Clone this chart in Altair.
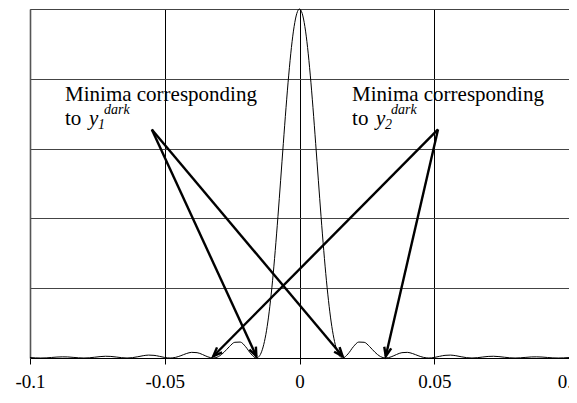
import math
import altair as alt
import pandas as pd

# ---- curve data ----
x_vals = [
    -0.100, -0.098, -0.096, -0.094, -0.092, -0.090, -0.088, -0.086, -0.084, -0.082,
    -0.080, -0.078, -0.076, -0.074, -0.072, -0.070, -0.068, -0.066, -0.064, -0.062,
    -0.060, -0.058, -0.056, -0.054, -0.052, -0.050, -0.048, -0.046, -0.044, -0.042,
    -0.040, -0.038, -0.036, -0.034, -0.032, -0.030, -0.028, -0.026, -0.024, -0.022,
    -0.020, -0.018, -0.016, -0.015, -0.014, -0.013, -0.012, -0.011, -0.010, -0.009,
    -0.008, -0.007, -0.006, -0.005, -0.004, -0.003, -0.002, -0.001,
    0.000,
    0.001, 0.002, 0.003, 0.004, 0.005, 0.006, 0.007, 0.008, 0.009, 0.010,
    0.011, 0.012, 0.013, 0.014, 0.015, 0.016, 0.018, 0.020, 0.022, 0.024,
    0.026, 0.028, 0.030, 0.032, 0.034, 0.036, 0.038, 0.040, 0.042, 0.044,
    0.046, 0.048, 0.050, 0.052, 0.054, 0.056, 0.058, 0.060, 0.062, 0.064,
    0.066, 0.068, 0.070, 0.072, 0.074, 0.076, 0.078, 0.080, 0.082, 0.084,
    0.086, 0.088, 0.090, 0.092, 0.094, 0.096, 0.098, 0.100,
]
y_vals = [
    0.0013, 0.0004, 0.0000, 0.0004, 0.0015, 0.0027, 0.0033, 0.0030, 0.0018, 0.0006,
    0.0000, 0.0006, 0.0022, 0.0040, 0.0050, 0.0045, 0.0028, 0.0009, 0.0000, 0.0010,
    0.0036, 0.0066, 0.0083, 0.0076, 0.0048, 0.0015, 0.0000, 0.0018, 0.0067, 0.0126,
    0.0162, 0.0153, 0.0100, 0.0033, 0.0000, 0.0042, 0.0165, 0.0328, 0.0450, 0.0457,
    0.0324, 0.0117, 0.0000, 0.0044, 0.0194, 0.0474, 0.0901, 0.1482, 0.2214, 0.3080,
    0.4053, 0.5092, 0.6150, 0.7173, 0.8106, 0.8896, 0.9496, 0.9872,
    1.0000,
    0.9872, 0.9496, 0.8896, 0.8106, 0.7173, 0.6150, 0.5092, 0.4053, 0.3080, 0.2214,
    0.1482, 0.0901, 0.0474, 0.0194, 0.0044, 0.0000, 0.0117, 0.0324, 0.0457, 0.0450,
    0.0328, 0.0165, 0.0042, 0.0000, 0.0033, 0.0100, 0.0153, 0.0162, 0.0126, 0.0067,
    0.0018, 0.0000, 0.0015, 0.0048, 0.0076, 0.0083, 0.0066, 0.0036, 0.0010, 0.0000,
    0.0009, 0.0028, 0.0045, 0.0050, 0.0040, 0.0022, 0.0006, 0.0000, 0.0006, 0.0018,
    0.0030, 0.0033, 0.0027, 0.0015, 0.0004, 0.0000, 0.0004, 0.0013,
]

x_ticks = [-0.1, -0.05, 0, 0.05, 0.1]
y_grid = [0, 0.2, 0.4, 0.6, 0.8, 1.0]

# ---- annotation data ----
arrow_x1 = [-0.0548, -0.0548, 0.0514, 0.0514]
arrow_y1 = [0.655, 0.655, 0.655, 0.655]
arrow_x2 = [-0.016, 0.016, -0.032, 0.032]
arrow_y2 = [0.005, 0.005, 0.005, 0.005]

label_x = [-0.0870, 0.0195]
label_line1_y = [0.737, 0.737]
label_line2_y = [0.667, 0.667]
label_line1 = ["Minima corresponding", "Minima corresponding"]
label_to = ["to", "to"]
label_y = ["y", "y"]
label_sub = ["1", "2"]
label_sup = ["dark", "dark"]

W, H = 539, 349
FONT = "Liberation Serif"

curve_df = pd.DataFrame({"x": x_vals, "y": y_vals})


def screen_angle(x1, y1, x2, y2):
    dx = (x2 - x1) / 0.2 * W
    dy = -(y2 - y1) * H
    return math.degrees(math.atan2(dx, -dy)) % 360


arrow_df = pd.DataFrame({
    "x1": arrow_x1, "y1": arrow_y1, "x2": arrow_x2, "y2": arrow_y2,
    "angle": [screen_angle(a, b, c, d) for a, b, c, d in zip(arrow_x1, arrow_y1, arrow_x2, arrow_y2)],
})
label_df = pd.DataFrame({
    "x": label_x, "y1": label_line1_y, "y2": label_line2_y,
    "l1": label_line1, "to": label_to, "yy": label_y, "sub": label_sub, "sup": label_sup,
})

xscale = alt.Scale(domain=[-0.1, 0.1], nice=False, zero=False)
yscale = alt.Scale(domain=[0, 1], nice=False, zero=False)

xaxis = alt.Axis(
    values=x_ticks, grid=True, gridColor="#000000", gridWidth=1, gridOpacity=1,
    domain=True, domainColor="#000000", domainWidth=1.2,
    ticks=True, tickColor="#000000", tickSize=6, tickWidth=1,
    labelFont=FONT, labelFontSize=19, labelColor="#000000", labelPadding=8,
    labelExpr="datum.value == 0 ? '0' : (datum.value < 0 ? '-' : '') + format(abs(datum.value), '~g')",
    labelFlush=False, labelOverlap=False, title=None,
)
yaxis = alt.Axis(
    values=y_grid, grid=True, gridColor="#444444", gridWidth=1.2, gridOpacity=1,
    domain=True, domainColor="#555555", domainWidth=1.6,
    ticks=False, labels=False, title=None,
)

curve = alt.Chart(curve_df).mark_line(color="#000000", strokeWidth=1, interpolate="monotone").encode(
    x=alt.X("x:Q", scale=xscale, axis=xaxis),
    y=alt.Y("y:Q", scale=yscale, axis=yaxis),
)

arrows = alt.Chart(arrow_df).mark_rule(color="#000000", strokeWidth=2.4).encode(
    x=alt.X("x1:Q", scale=xscale), y=alt.Y("y1:Q", scale=yscale),
    x2="x2:Q", y2="y2:Q",
)

heads = alt.Chart(arrow_df).mark_point(
    shape="M -0.4 1 L 0 0 L 0.4 1", filled=False, color="#000000",
    strokeWidth=2.4, size=320, opacity=1,
).encode(
    x=alt.X("x2:Q", scale=xscale), y=alt.Y("y2:Q", scale=yscale),
    angle=alt.Angle("angle:Q", scale=None),
)

base_txt = alt.Chart(label_df)
t_line1 = base_txt.mark_text(font=FONT, fontSize=21, align="left", baseline="alphabetic", color="#000000").encode(
    x=alt.X("x:Q", scale=xscale), y=alt.Y("y1:Q", scale=yscale), text="l1:N")
t_to = base_txt.mark_text(font=FONT, fontSize=21, align="left", baseline="alphabetic", color="#000000").encode(
    x=alt.X("x:Q", scale=xscale), y=alt.Y("y2:Q", scale=yscale), text="to:N")
t_y = base_txt.mark_text(font=FONT, fontSize=21, fontStyle="italic", align="left", baseline="alphabetic",
                         color="#000000", dx=24).encode(
    x=alt.X("x:Q", scale=xscale), y=alt.Y("y2:Q", scale=yscale), text="yy:N")
t_sub = base_txt.mark_text(font=FONT, fontSize=14, fontStyle="italic", align="left", baseline="alphabetic",
                           color="#000000", dx=33, dy=4).encode(
    x=alt.X("x:Q", scale=xscale), y=alt.Y("y2:Q", scale=yscale), text="sub:N")
t_sup = base_txt.mark_text(font=FONT, fontSize=14, fontStyle="italic", align="left", baseline="alphabetic",
                           color="#000000", dx=39, dy=-11).encode(
    x=alt.X("x:Q", scale=xscale), y=alt.Y("y2:Q", scale=yscale), text="sup:N")

chart = alt.layer(curve, arrows, heads, t_line1, t_to, t_y, t_sub, t_sup).properties(
    width=W, height=H,
    autosize=alt.AutoSizeParams(type="none"),
    padding={"left": 22, "top": 1, "right": 0, "bottom": 40},
    background="#ffffff",
).configure_view(stroke=None)

chart.save("out.html", embed_options={"renderer": "svg", "actions": False})
